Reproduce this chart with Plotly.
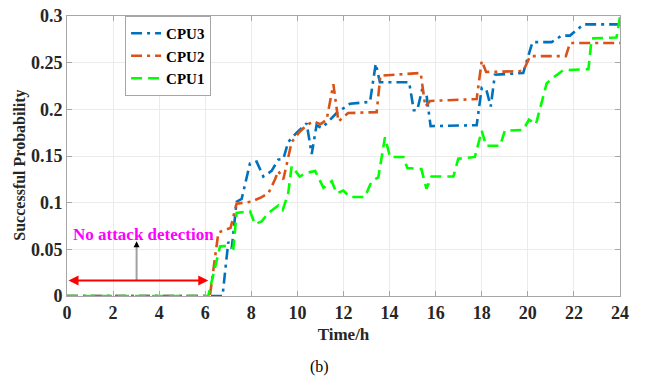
import plotly.graph_objects as go

# ---- data ----
cpu3_t = [0, 6.75, 7.0, 7.15, 7.36, 7.58, 7.94, 8.23, 8.52, 8.88, 9.17, 9.39, 9.6, 9.97, 10.4,
          10.62, 10.83, 11.05, 11.27, 11.7, 12.28, 13.15, 13.4, 13.58, 14.85, 15.05, 15.2, 15.4,
          15.6, 15.78, 17.78, 18.0, 18.2, 18.39, 18.57, 19.8, 20.2, 21.03, 21.47, 21.83, 22.41, 24]
cpu3_v = [0, 0, 0.058, 0.051, 0.101, 0.104, 0.142, 0.144, 0.128, 0.134, 0.146, 0.147, 0.165, 0.175,
          0.185, 0.152, 0.183, 0.180, 0.185, 0.196, 0.206, 0.208, 0.249, 0.229, 0.229, 0.199, 0.199,
          0.220, 0.216, 0.182, 0.183, 0.223, 0.221, 0.203, 0.237, 0.239, 0.272, 0.272, 0.279, 0.279,
          0.291, 0.291]

cpu2_t = [0, 6.2, 6.57, 7.1, 7.36, 8.0, 8.45, 8.74, 9.03, 9.17, 9.39, 9.75, 10.1, 10.4, 10.69,
          11.0, 11.27, 11.56, 11.78, 12.2, 13.44, 13.6, 15.35, 15.55, 15.76, 17.78, 18.0, 18.19,
          19.8, 20.1, 21.65, 21.83, 24]
cpu2_v = [0, 0, 0.068, 0.073, 0.099, 0.101, 0.106, 0.110, 0.125, 0.134, 0.125, 0.165, 0.176,
          0.183, 0.187, 0.184, 0.189, 0.227, 0.187, 0.196, 0.197, 0.236, 0.239, 0.203, 0.209,
          0.211, 0.252, 0.240, 0.241, 0.257, 0.257, 0.271, 0.271]

cpu1_t = [0, 6.13, 6.64, 7.0, 7.22, 7.36, 7.94, 8.16, 8.45, 8.74, 9.17, 9.36, 9.6, 9.75, 10.1,
          10.4, 10.77, 11.13, 11.49, 11.7, 11.99, 12.28, 12.93, 13.22, 13.51, 13.8, 14.02, 14.6,
          14.77, 15.38, 15.6, 15.82, 16.77, 16.98, 17.7, 18.0, 18.19, 18.8, 19.0, 19.8, 20.05,
          20.35, 20.82, 21.1, 21.54, 22.63, 22.77, 23.85, 24]
cpu1_v = [0, 0, 0.053, 0.054, 0.051, 0.089, 0.091, 0.077, 0.080, 0.089, 0.097, 0.092, 0.110,
          0.139, 0.128, 0.132, 0.134, 0.116, 0.123, 0.110, 0.113, 0.106, 0.106, 0.123, 0.127,
          0.170, 0.149, 0.149, 0.137, 0.136, 0.115, 0.128, 0.128, 0.147, 0.149, 0.177, 0.161,
          0.161, 0.177, 0.178, 0.189, 0.184, 0.228, 0.234, 0.242, 0.243, 0.276, 0.277, 0.299]

x_ticks = [0, 2, 4, 6, 8, 10, 12, 14, 16, 18, 20, 22, 24]
y_ticks = [0, 0.05, 0.1, 0.15, 0.2, 0.25, 0.3]
y_tick_labels = ["0", "0.05", "0.1", "0.15", "0.2", "0.25", "0.3"]

series = [
    ("CPU3", cpu3_t, cpu3_v, "#0072BD", "11px,5px,3px,5px"),
    ("CPU2", cpu2_t, cpu2_v, "#D95319", "11px,5px,3px,5px"),
    ("CPU1", cpu1_t, cpu1_v, "#00FF00", "11px,6px"),
]

SERIF = "Liberation Serif"
TXT = "#262626"

fig = go.Figure()
for name, t, v, color, dash in series:
    fig.add_trace(go.Scatter(x=t, y=v, mode="lines", name=name,
                             line=dict(color=color, width=2.6, dash=dash)))

axis_common = dict(showgrid=True, gridcolor="#ebebeb", gridwidth=1, zeroline=False,
                   showline=True, linecolor="#a6a6a6", linewidth=1, mirror="ticks",
                   ticks="inside", ticklen=5, tickcolor="#a6a6a6", ticklabeloverflow="allow",
                   tickfont=dict(family=SERIF, size=18, color=TXT, weight="bold"))

fig.update_xaxes(range=[0, 24], tickvals=x_ticks, ticktext=[str(v) for v in x_ticks],
                 title=dict(text="Time/h", font=dict(family=SERIF, size=17, color=TXT, weight="bold"),
                            standoff=6),
                 **axis_common)
fig.update_yaxes(range=[0, 0.3], tickvals=y_ticks, ticktext=y_tick_labels, **axis_common)

# y-axis title
fig.add_annotation(x=-0.085, y=0.469, xref="paper", yref="paper", text="Successful Probability",
                   textangle=-90, showarrow=False, xanchor="center", yanchor="middle",
                   font=dict(family=SERIF, size=16, color=TXT, weight="bold"))

# annotation arrows
fig.add_annotation(x=6.13, y=0.0165, ax=0, ay=0.0165, xref="x", yref="y", axref="x", ayref="y",
                   text="", showarrow=True, arrowhead=2, arrowside="end+start", arrowsize=1,
                   arrowwidth=2, arrowcolor="#ff0000")
fig.add_shape(type="line", x0=3.02, x1=3.02, y0=0.0165, y1=0.055, xref="x", yref="y",
              line=dict(color="#a0a0a0", width=2))
fig.add_annotation(x=3.02, y=0.0586, ax=3.02, ay=0.052, xref="x", yref="y", axref="x", ayref="y",
                   text="", showarrow=True, arrowhead=2, arrowsize=1, arrowwidth=1.2,
                   arrowcolor="#000000")
fig.add_annotation(x=3.33, y=0.066, xref="x", yref="y", text="No attack detection",
                   showarrow=False,
                   font=dict(family=SERIF, size=17, color="#ff00ff", weight="bold"))
fig.add_annotation(x=0.4575, y=-0.252, xref="paper", yref="paper", text="(b)", showarrow=False,
                   yanchor="middle", xanchor="center",
                   font=dict(family=SERIF, size=16, color="#000000"))

fig.update_layout(
    width=651, height=381,
    margin=dict(l=67, r=31, t=6, b=85),
    plot_bgcolor="white", paper_bgcolor="white",
    legend=dict(x=0.105, y=1.0, xanchor="left", yanchor="top", bgcolor="white",
                bordercolor="#a6a6a6", borderwidth=1, itemwidth=30,
                font=dict(family=SERIF, size=15, color="#000000", weight="bold"),
                tracegroupgap=0),
    showlegend=True,
)

fig.write_html("out.html")
